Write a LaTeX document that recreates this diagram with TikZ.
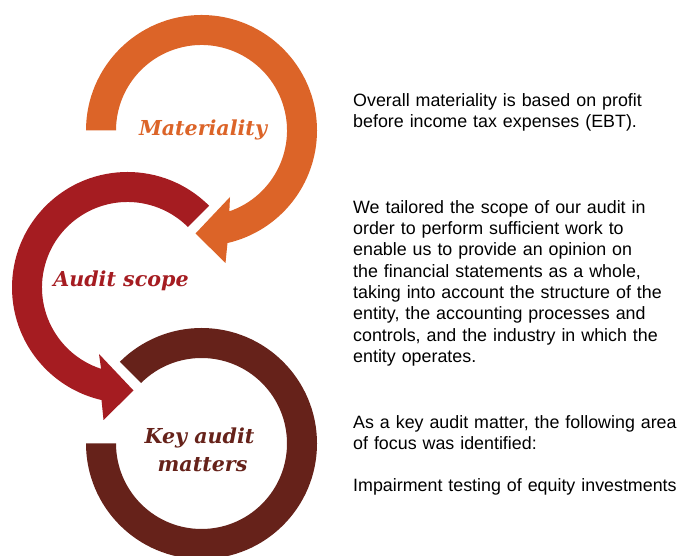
\documentclass[tikz,border=0pt]{standalone}
\usepackage{fontspec}
\setmainfont{Liberation Sans}
\newfontfamily\labfont{DejaVu Serif}
\usetikzlibrary{calc}
\definecolor{cOrange}{RGB}{220,100,40}
\definecolor{cRed}{RGB}{165,28,33}
\definecolor{cBrown}{RGB}{102,34,26}
\begin{document}
\begin{tikzpicture}[x=1pt,y=1pt,
  lab/.style={font=\labfont\bfseries\itshape\fontsize{20.6}{24}\selectfont, inner sep=0pt, anchor=base},
  para/.style={font=\fontsize{17.85}{21.3}\selectfont, inner sep=0pt, anchor=base west, align=left, text width=340pt}]
\useasboundingbox (0,0) rectangle (679,556);
\clip (0,0) rectangle (679,556);
\fill[white] (0,0) rectangle (679,556);
\coordinate (O) at (201.5,425.5);
\coordinate (A) at (127.5,268.5);
\coordinate (K) at (201.5,112.5);
% orange ring with arrow
\fill[cOrange] ($(O)+(180:115.5)$) arc[start angle=180, end angle=-77, radius=115.5]
  -- ($(O)+(24,-132.5)$) -- ($(O)+(-6,-103)$) -- ($(O)+(28.5,-66.5)$)
  -- ($(O)+(-71:85.5)$) arc[start angle=-71, end angle=180, radius=85.5] -- cycle;
% red ring with arrow
\fill[cRed] ($(A)+(45:115.5)$) arc[start angle=45, end angle=257, radius=115.5]
  -- ($(A)+(-24,-132.5)$) -- ($(A)+(6,-103)$) -- ($(A)+(-28.5,-66.5)$)
  -- ($(A)+(252:85.5)$) arc[start angle=252, end angle=45, radius=85.5] -- cycle;
% brown ring
\fill[cBrown] ($(K)+(180:115.5)$) arc[start angle=180, end angle=495, radius=115.5]
  -- ($(K)+(135:85.5)$) arc[start angle=495, end angle=180, radius=85.5] -- cycle;
% labels
\node[lab, text=cOrange] (mat) at (203,420) {Materiality};
\node[lab, text=cRed] (aud) at (121,269) {Audit scope};
\node[lab, text=cBrown] (kam1) at (199.5,112) {Key audit};
\node[lab, text=cBrown] (kam2) at (202.5,84) {matters};
% paragraphs
\node[para] (p1) at (353,449.3) {Overall materiality is based on profit\\before income tax expenses (EBT).};
\node[para] (p2) at (353,342.7) {We tailored the scope of our audit in\\order to perform sufficient work to\\enable us to provide an opinion on\\the financial statements as a whole,\\taking into account the structure of the\\entity, the accounting processes and\\controls, and the industry in which the\\entity operates.};
\node[para] (p3) at (353,127.5) {As a key audit matter, the following area\\of focus was identified:};
\node[para] (p4) at (353,64.5) {Impairment testing of equity investments};
\end{tikzpicture}
\end{document}
